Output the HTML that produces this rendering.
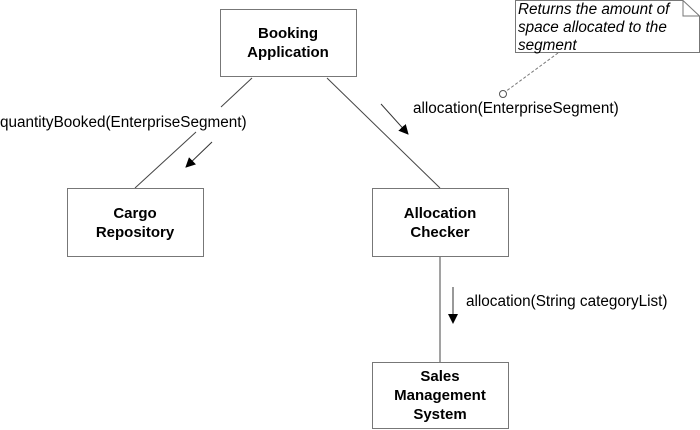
<html><body style="margin:0;background:#fff">
<svg width="700" height="430" xmlns="http://www.w3.org/2000/svg" font-family="Liberation Sans, sans-serif">
<defs><marker id="a" markerWidth="10" markerHeight="10" refX="9" refY="5" orient="auto" markerUnits="userSpaceOnUse"><path d="M0,0 L10,5 L0,10 z" fill="#000"/></marker></defs>
<g stroke="#444" stroke-width="1" fill="none">
<line x1="252" y1="78" x2="221" y2="107"/>
<line x1="196" y1="132" x2="135" y2="188"/>
<line x1="327" y1="78" x2="440" y2="188"/>
<line x1="440" y1="256" x2="440" y2="362"/>
</g>
<g fill="#fff" stroke="#777">
<rect x="220.5" y="9.5" width="136" height="67"/>
<rect x="67.5" y="188.5" width="136" height="68"/>
<rect x="372.5" y="188.5" width="136" height="68"/>
<rect x="372.5" y="362.5" width="136" height="66"/>
<path d="M515.5,0.5 H683 L699.5,16 V52.5 H515.5 Z"/>
<path d="M683,0.5 V16 H699.5" fill="none"/>
</g>
<line x1="558" y1="53" x2="505" y2="92" stroke="#777" stroke-dasharray="3,2"/>
<circle cx="503" cy="94" r="3.5" fill="#fff" stroke="#555"/>
<g stroke="#333" stroke-width="1">
<line x1="212" y1="142" x2="186" y2="167" marker-end="url(#a)"/>
<line x1="381" y1="104" x2="408" y2="134" marker-end="url(#a)"/>
<line x1="453" y1="287" x2="453" y2="323" marker-end="url(#a)"/>
</g>
<g font-weight="bold" font-size="15" text-anchor="middle" fill="#000">
<text x="288" y="38">Booking</text><text x="288" y="57">Application</text>
<text x="135" y="218">Cargo</text><text x="135" y="237">Repository</text>
<text x="440" y="218">Allocation</text><text x="440" y="237">Checker</text>
<text x="440" y="381">Sales</text><text x="440" y="400">Management</text><text x="440" y="419">System</text>
</g>
<g font-size="15.3" fill="#000">
<text x="0" y="127">quantityBooked(EnterpriseSegment)</text>
<text x="413" y="113">allocation(EnterpriseSegment)</text>
<text x="466" y="306">allocation(String categoryList)</text>
</g>
<g font-size="15.3" font-style="italic" fill="#000">
<text x="518" y="14">Returns the amount of</text>
<text x="518" y="32">space allocated to the</text>
<text x="518" y="50">segment</text>
</g>
</svg>
</body></html>
